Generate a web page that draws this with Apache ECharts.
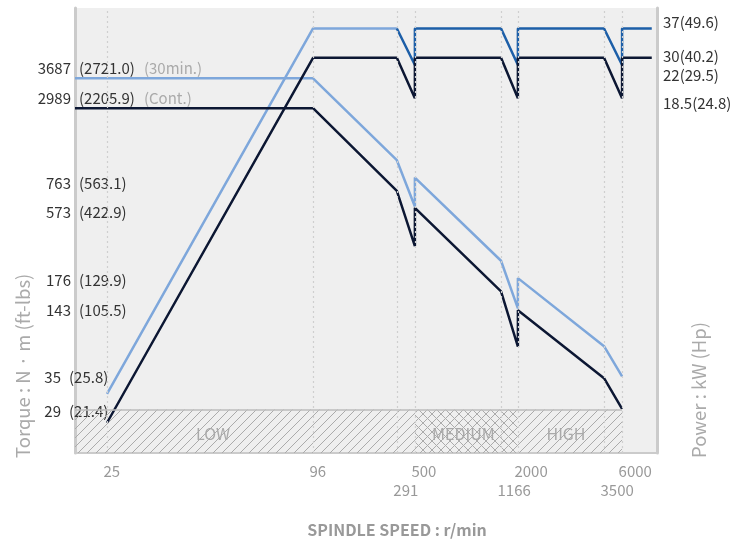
<!DOCTYPE html>
<html>
<head>
<meta charset="utf-8">
<script src="https://cdn.jsdelivr.net/npm/echarts@6.0.0/dist/echarts.min.js"></script>
<style>
  html, body { margin: 0; background: #fff; }
  #chart { width: 744px; height: 542px; }
</style>
</head>
<body>
<div id="chart"></div>
<script>
// speed stations on the (schematic) x axis, r/min
const speeds = [25, 96, 291, 500, 1166, 2000, 3500, 6000]
// where each station sits on the 0..100 axis scale
const speedScale = [5.5, 40.9, 55.3, 58.4, 73.2, 76.1, 90.9, 94.0]
const scaleStart = 0
const scaleEnd = 99.1
// tick labels: upper row / lower row
const upperTicks = [25, 96, 500, 2000, 6000]
const lowerTicks = [291, 1166, 3500]

// torque axis labels (left), level on the 0..100 vertical scale
const torqueNm = ['3687', '2989', '763', '573', '176', '143', '35', '29']
const torqueFtLbs = ['2721.0', '2205.9', '563.1', '422.9', '129.9', '105.5', '25.8', '21.4']
const torqueNote = ['30min.', 'Cont.', '', '', '', '', '', '']
const torqueLevel = [86.5, 79.8, 60.7, 54.2, 38.9, 32.0, 16.9, 9.3]

// power axis labels (right)
const powerKw = ['37', '30', '22', '18.5']
const powerHp = ['49.6', '40.2', '29.5', '24.8']
const powerLevel = [96.7, 89.1, 84.9, 78.6]

// curves: [speed, level]
const torque30min = [['start', 84.2], [96, 84.2], [291, 65.8], [500, 55.4], [500, 61.9], [1166, 43.2], [2000, 32.5], [2000, 39.3], [3500, 24.0], [6000, 17.2]]
const torqueCont = [['start', 77.5], [96, 77.5], [291, 58.9], [500, 46.5], [500, 55.1], [1166, 36.3], [2000, 23.9], [2000, 32.1], [3500, 16.8], [6000, 9.9]]
const power30minLow = [[25, 13.3], [96, 95.4], [291, 95.4]]
const power30minHigh = [[291, 95.4], [500, 87.2], [500, 95.4], [1166, 95.4], [2000, 87.2], [2000, 95.4], [3500, 95.4], [6000, 87.2], [6000, 95.4], ['end', 95.4]]
const powerCont = [[25, 6.8], [96, 88.8], [291, 88.8], [500, 79.7], [500, 88.8], [1166, 88.8], [2000, 79.7], [2000, 88.8], [3500, 88.8], [6000, 79.7], [6000, 88.8], ['end', 88.8]]

// gear ranges
const gearNames = ['LOW', 'MEDIUM', 'HIGH']
const gearFrom = ['start', 500, 2000]
const gearTo = [500, 2000, 6000]
const gearTop = 9.8

const FONT = '"Noto Sans CJK KR", "Noto Sans", sans-serif'

function sx (s) {
  if (s === 'start') return scaleStart
  if (s === 'end') return scaleEnd
  return speedScale[speeds.indexOf(s)]
}
function toXY (arr) {
  return arr.map(p => [sx(p[0]), p[1]])
}
function near (arr, v) {
  return arr.findIndex(a => Math.abs(a - v) < 1e-6)
}

// hatch patterns for the gear band
function hatch (cross) {
  const n = 9
  const c = document.createElement('canvas')
  c.width = n
  c.height = n
  const g = c.getContext('2d')
  g.strokeStyle = '#ababab'
  g.lineWidth = 1
  g.beginPath()
  g.moveTo(-1, n + 1); g.lineTo(n + 1, -1)
  g.moveTo(-1, 1); g.lineTo(1, -1)
  g.moveTo(n - 1, n + 1); g.lineTo(n + 1, n - 1)
  if (cross) {
    g.moveTo(-1, -1); g.lineTo(n + 1, n + 1)
    g.moveTo(n - 1, -1); g.lineTo(n + 1, 1)
    g.moveTo(-1, n - 1); g.lineTo(1, n + 1)
  }
  g.stroke()
  return { image: c, repeat: 'repeat' }
}

const chart = echarts.init(document.getElementById('chart'))

const labelOffsets = [[-32, 3], [-3, 3], [-4, 3]]
const gearAreas = gearNames.map((name, i) => [
  {
    name: name,
    xAxis: sx(gearFrom[i]),
    yAxis: 0,
    itemStyle: { color: hatch(name === 'MEDIUM'), borderWidth: 0 },
    label: { offset: labelOffsets[i] }
  },
  { xAxis: sx(gearTo[i]), yAxis: gearTop }
])

const xLabelShift = 0.6
const upperLabelValues = upperTicks.map(s => sx(s) - xLabelShift)
const lowerLabelValues = lowerTicks.map(s => sx(s) - xLabelShift)
// the two lowest torque labels sit a little further left
const shiftedLeft = ['35', '29']

function speedAxis (values, ticks, show, prefix) {
  return {
    type: 'value',
    min: 0,
    max: 100,
    position: 'bottom',
    axisLine: { show: show, lineStyle: { color: '#cbcbcb', width: 2 } },
    axisTick: { show: false },
    splitLine: { show: false },
    axisLabel: {
      customValues: values,
      showMinLabel: true,
      showMaxLabel: true,
      align: 'left',
      margin: 9,
      color: '#999',
      fontSize: 15,
      lineHeight: 19,
      fontFamily: FONT,
      formatter: (v) => prefix + ticks[near(values, v)]
    }
  }
}

const option = {
  animation: false,
  textStyle: { fontFamily: FONT },
  grid: {
    left: 75,
    right: 87,
    top: 8,
    bottom: 89,
    show: true,
    backgroundColor: '#efefef',
    borderWidth: 0,
    outerBoundsMode: 'none'
  },
  xAxis: [
    speedAxis(upperLabelValues, upperTicks, true, ''),
    speedAxis(lowerLabelValues, lowerTicks, false, '\n')
  ],
  yAxis: [
    {
      type: 'value',
      min: 0,
      max: 100,
      position: 'left',
      axisLine: { show: true, lineStyle: { color: '#cbcbcb', width: 3 } },
      axisTick: { show: false },
      splitLine: { show: false },
      axisLabel: {
        customValues: torqueLevel,
        margin: 4,
        color: '#333',
        fontSize: 15,
        fontFamily: FONT,
        formatter: (v) => {
          const t = torqueNm[near(torqueLevel, v)]
          return shiftedLeft.indexOf(t) >= 0 ? '{s|' + t + '}' : t
        },
        rich: {
          s: { color: '#333', fontSize: 15, fontFamily: FONT, padding: [0, 10, 0, 0] }
        }
      }
    },
    {
      type: 'value',
      min: 0,
      max: 100,
      position: 'left',
      axisLine: { show: false },
      axisTick: { show: false },
      splitLine: { show: false },
      axisLabel: {
        customValues: torqueLevel,
        inside: true,
        margin: -6,
        color: '#333',
        fontSize: 15,
        fontFamily: FONT,
        formatter: (v) => {
          const i = near(torqueLevel, v)
          const st = shiftedLeft.indexOf(torqueNm[i]) >= 0 ? 'w' : 'v'
          let s = '{' + st + '|(' + torqueFtLbs[i] + ')}'
          if (torqueNote[i]) s += '{n|(' + torqueNote[i] + ')}'
          return s
        },
        rich: {
          v: { color: '#333', fontSize: 15, fontFamily: FONT, padding: [0, 0, 0, 10] },
          w: { color: '#333', fontSize: 15, fontFamily: FONT },
          n: { color: '#aaa', fontSize: 15, fontFamily: FONT, padding: [0, 0, 0, 9] }
        }
      }
    },
    {
      type: 'value',
      min: 0,
      max: 100,
      position: 'right',
      axisLine: { show: true, lineStyle: { color: '#cbcbcb', width: 3 } },
      axisTick: { show: false },
      splitLine: { show: false },
      axisLabel: {
        customValues: powerLevel,
        margin: 6,
        color: '#333',
        fontSize: 15,
        fontFamily: FONT,
        formatter: (v) => {
          const i = near(powerLevel, v)
          return powerKw[i] + '(' + powerHp[i] + ')'
        }
      }
    }
  ],
  series: [
    {
      // gear band
      type: 'line',
      z: 1,
      data: [],
      silent: true,
      markArea: {
        silent: true,
        label: {
          show: true,
          position: 'inside',
          color: '#a9a9a9',
          fontSize: 16,
          fontFamily: FONT
        },
        data: gearAreas
      }
    },
    {
      // dotted speed gridlines + top of gear band
      type: 'line',
      z: 2,
      data: [],
      silent: true,
      markLine: {
        silent: true,
        symbol: 'none',
        label: { show: false },
        lineStyle: { color: '#cfcfcf', width: 1.2, type: [2, 3] },
        data: speeds.map(s => ({ xAxis: sx(s) })).concat([[
          { coord: [scaleStart, gearTop], lineStyle: { color: '#bdbdbd', width: 1.5, type: 'solid' } },
          { coord: [sx(6000), gearTop] }
        ]])
      }
    },
    {
      name: 'Torque 30min',
      type: 'line',
      z: 3,
      symbol: 'none',
      lineStyle: { color: '#7ea7db', width: 2.5 },
      data: toXY(torque30min)
    },
    {
      name: 'Power 30min',
      type: 'line',
      z: 3,
      symbol: 'none',
      lineStyle: { color: '#7ea7db', width: 2.5 },
      data: toXY(power30minLow)
    },
    {
      name: 'Power 30min (high)',
      type: 'line',
      z: 3,
      symbol: 'none',
      lineStyle: { color: '#1d5fa8', width: 2.5 },
      data: toXY(power30minHigh)
    },
    {
      name: 'Torque Cont.',
      type: 'line',
      z: 4,
      symbol: 'none',
      lineStyle: { color: '#0c1733', width: 2.5 },
      data: toXY(torqueCont)
    },
    {
      name: 'Power Cont.',
      type: 'line',
      z: 4,
      symbol: 'none',
      lineStyle: { color: '#0c1733', width: 2.5 },
      data: toXY(powerCont)
    }
  ],
  graphic: [
    {
      type: 'text',
      x: 23,
      y: 458,
      rotation: Math.PI / 2,
      style: {
        text: 'Torque : N · m (ft-lbs)',
        fill: '#aaa',
        fontSize: 18.5,
        fontFamily: FONT,
        align: 'left',
        verticalAlign: 'middle'
      }
    },
    {
      type: 'text',
      x: 699,
      y: 458,
      rotation: Math.PI / 2,
      style: {
        text: 'Power : kW (Hp)',
        fill: '#aaa',
        fontSize: 18.5,
        fontFamily: FONT,
        align: 'left',
        verticalAlign: 'middle'
      }
    },
    {
      type: 'text',
      x: 397,
      y: 530,
      style: {
        text: 'SPINDLE SPEED : r/min',
        fill: '#999',
        fontSize: 16,
        fontWeight: 'bold',
        fontFamily: FONT,
        align: 'center',
        verticalAlign: 'middle'
      }
    }
  ]
}

chart.setOption(option)
</script>
</body>
</html>
